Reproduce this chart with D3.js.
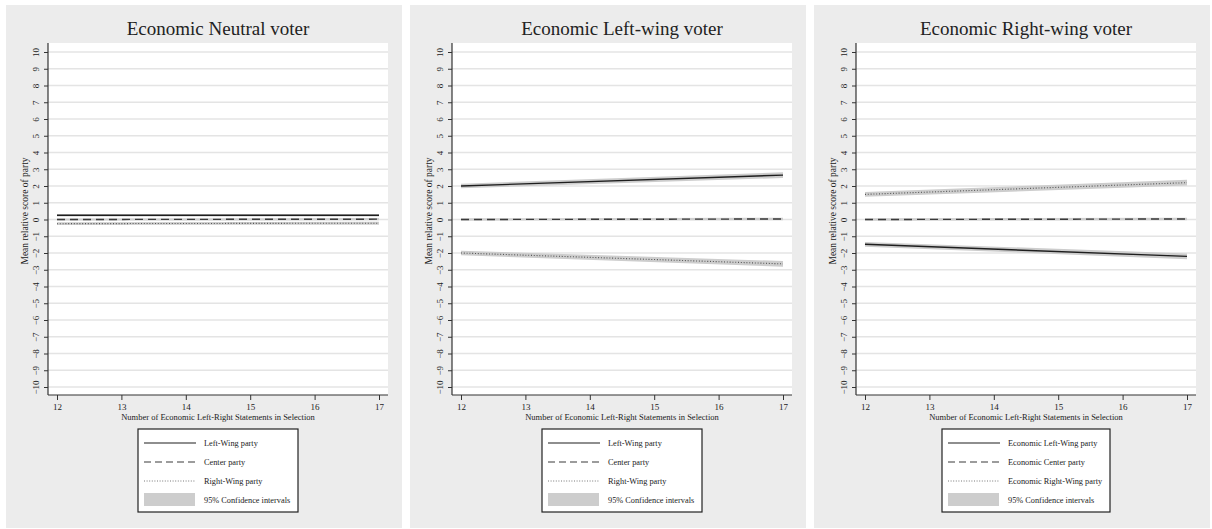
<!DOCTYPE html>
<html>
<head>
<meta charset="utf-8">
<script src="https://cdn.jsdelivr.net/npm/d3@7"></script>
<style>
  body { margin: 0; background: #fff; }
  text { font-family: "Liberation Serif", "DejaVu Serif", serif; fill: #222; }
</style>
</head>
<body>
<svg width="1212" height="529"></svg>
<script>
// chart data
var panelTitles = ["Economic Neutral voter", "Economic Left-wing voter", "Economic Right-wing voter"];
var legendLabels = [
  ["Left-Wing party", "Center party", "Right-Wing party", "95% Confidence intervals"],
  ["Left-Wing party", "Center party", "Right-Wing party", "95% Confidence intervals"],
  ["Economic Left-Wing party", "Economic Center party", "Economic Right-Wing party", "95% Confidence intervals"]
];
var xValues = [12, 17];
var xTicks = [12, 13, 14, 15, 16, 17];
var yTicks = [-10, -9, -8, -7, -6, -5, -4, -3, -2, -1, 0, 1, 2, 3, 4, 5, 6, 7, 8, 9, 10];

// estimates at x = 12 and x = 17, with 95% CI
var neutralLeft = [0.25, 0.25],   neutralLeftCI = [[0.18, 0.32], [0.18, 0.32]];
var neutralCenter = [0.0, 0.02],  neutralCenterCI = [[-0.06, 0.06], [-0.05, 0.09]];
var neutralRight = [-0.25, -0.22], neutralRightCI = [[-0.33, -0.17], [-0.31, -0.13]];

var leftLeft = [2.0, 2.65],     leftLeftCI = [[1.86, 2.14], [2.48, 2.82]];
var leftCenter = [0.0, 0.03],   leftCenterCI = [[-0.07, 0.07], [-0.05, 0.11]];
var leftRight = [-2.0, -2.65],  leftRightCI = [[-2.14, -1.86], [-2.82, -2.48]];

var rightLeft = [-1.48, -2.2],  rightLeftCI = [[-1.62, -1.34], [-2.37, -2.03]];
var rightCenter = [0.0, 0.03],  rightCenterCI = [[-0.07, 0.07], [-0.05, 0.11]];
var rightRight = [1.5, 2.2],    rightRightCI = [[1.36, 1.64], [2.03, 2.37]];

var panelSeries = [
  [[neutralLeft, neutralLeftCI], [neutralCenter, neutralCenterCI], [neutralRight, neutralRightCI]],
  [[leftLeft, leftLeftCI], [leftCenter, leftCenterCI], [leftRight, leftRightCI]],
  [[rightLeft, rightLeftCI], [rightCenter, rightCenterCI], [rightRight, rightRightCI]]
];

var lineStyles = [
  {stroke: "#1e1e1e", width: 1.4, dash: null},
  {stroke: "#3a3a3a", width: 1.4, dash: "8,5"},
  {stroke: "#555", width: 1.1, dash: "1,1.8"}
];

var svg = d3.select("svg");
var panelW = 396, panelH = 523;
var margin = {left: 42, right: 14, top: 38, bottom: 133};

var x = d3.scaleLinear().domain([12, 17]).range([9, 331]);
var y = d3.scaleLinear().domain([-10, 10]).range([344, 9]);
var plotW = panelW - margin.left - margin.right;
var plotH = 352;

panelTitles.forEach(function(title, p) {
  var panel = svg.append("g")
      .attr("transform", "translate(" + (6 + p * 404) + ",5)");

  panel.append("rect")
      .attr("width", panelW)
      .attr("height", panelH)
      .attr("fill", "#ececec");

  panel.append("text")
      .attr("x", margin.left + plotW / 2)
      .attr("y", 30)
      .attr("text-anchor", "middle")
      .style("font-size", "19px")
      .text(title);

  var g = panel.append("g")
      .attr("transform", "translate(" + margin.left + "," + margin.top + ")");

  g.append("rect")
      .attr("width", plotW)
      .attr("height", plotH)
      .attr("fill", "#fff");

  // grid
  g.selectAll(".grid")
    .data(yTicks)
    .enter().append("line")
      .attr("x1", 0).attr("x2", plotW)
      .attr("y1", function(d) { return y(d); })
      .attr("y2", function(d) { return y(d); })
      .attr("stroke", "#e4e4e4")
      .attr("stroke-width", 1.3);

  // confidence bands
  var area = d3.area()
      .x(function(d, i) { return x(xValues[i]); })
      .y0(function(d) { return y(d[0]); })
      .y1(function(d) { return y(d[1]); });

  panelSeries[p].forEach(function(s) {
    g.append("path")
        .attr("d", area(s[1]))
        .attr("fill", "#cdcdcd");
  });

  var line = d3.line()
      .x(function(d, i) { return x(xValues[i]); })
      .y(function(d) { return y(d); });

  panelSeries[p].forEach(function(s, k) {
    g.append("path")
        .attr("d", line(s[0]))
        .attr("fill", "none")
        .attr("stroke", lineStyles[k].stroke)
        .attr("stroke-width", lineStyles[k].width)
        .attr("stroke-dasharray", lineStyles[k].dash);
  });

  // y axis
  var yAxis = g.append("g")
      .call(d3.axisLeft(y).tickValues(yTicks).tickSize(4).tickFormat(d3.format("d")));
  yAxis.select(".domain").attr("d", "M0,0V" + plotH).attr("stroke", "#333").attr("stroke-width", 1.2);
  yAxis.selectAll(".tick line").attr("stroke", "#333");
  yAxis.selectAll(".tick text")
      .attr("x", null).attr("dy", null)
      .attr("transform", "translate(-9,0) rotate(-90)")
      .attr("text-anchor", "middle")
      .style("font-family", "Liberation Serif, serif")
      .style("font-size", "9px")
      .attr("fill", "#222");

  // x axis
  var xAxis = g.append("g")
      .attr("transform", "translate(0," + plotH + ")")
      .call(d3.axisBottom(x).tickValues(xTicks).tickSize(5).tickFormat(d3.format("d")));
  xAxis.select(".domain").attr("d", "M0,0H" + plotW).attr("stroke", "#333").attr("stroke-width", 1.2);
  xAxis.selectAll(".tick line").attr("stroke", "#333");
  xAxis.selectAll(".tick text")
      .attr("y", 9)
      .style("font-family", "Liberation Serif, serif")
      .style("font-size", "9px")
      .attr("fill", "#222");

  g.append("text")
      .attr("x", plotW / 2)
      .attr("y", plotH + 25)
      .attr("text-anchor", "middle")
      .style("font-size", "8.5px")
      .text("Number of Economic Left-Right Statements in Selection");

  g.append("text")
      .attr("transform", "translate(-20," + (plotH / 2 - 8) + ") rotate(-90)")
      .attr("text-anchor", "middle")
      .style("font-size", "9.5px")
      .text("Mean relative score of party");

  // legend
  var legW = p === 2 ? 168 : 160;
  var leg = panel.append("g")
      .attr("transform", "translate(" + (margin.left + plotW / 2 - legW / 2) + ",424)");
  leg.append("rect")
      .attr("width", legW)
      .attr("height", 83)
      .attr("fill", "#fff")
      .attr("stroke", "#222")
      .attr("stroke-width", 1.2);

  legendLabels[p].forEach(function(label, k) {
    var ly = 14 + k * 19;
    if (k < 3) {
      leg.append("line")
          .attr("x1", 6).attr("x2", 58)
          .attr("y1", ly).attr("y2", ly)
          .attr("stroke", lineStyles[k].stroke)
          .attr("stroke-width", k === 2 ? 0.8 : 1.1)
          .attr("stroke-dasharray", k === 1 ? "7,4" : (k === 2 ? "1,1.6" : null));
    } else {
      leg.append("rect")
          .attr("x", 6).attr("y", ly - 7)
          .attr("width", 51).attr("height", 13)
          .attr("fill", "#cdcdcd");
    }
    leg.append("text")
        .attr("x", 66)
        .attr("y", ly + 3)
        .style("font-size", "8.3px")
        .text(label);
  });
});
</script>
</body>
</html>
